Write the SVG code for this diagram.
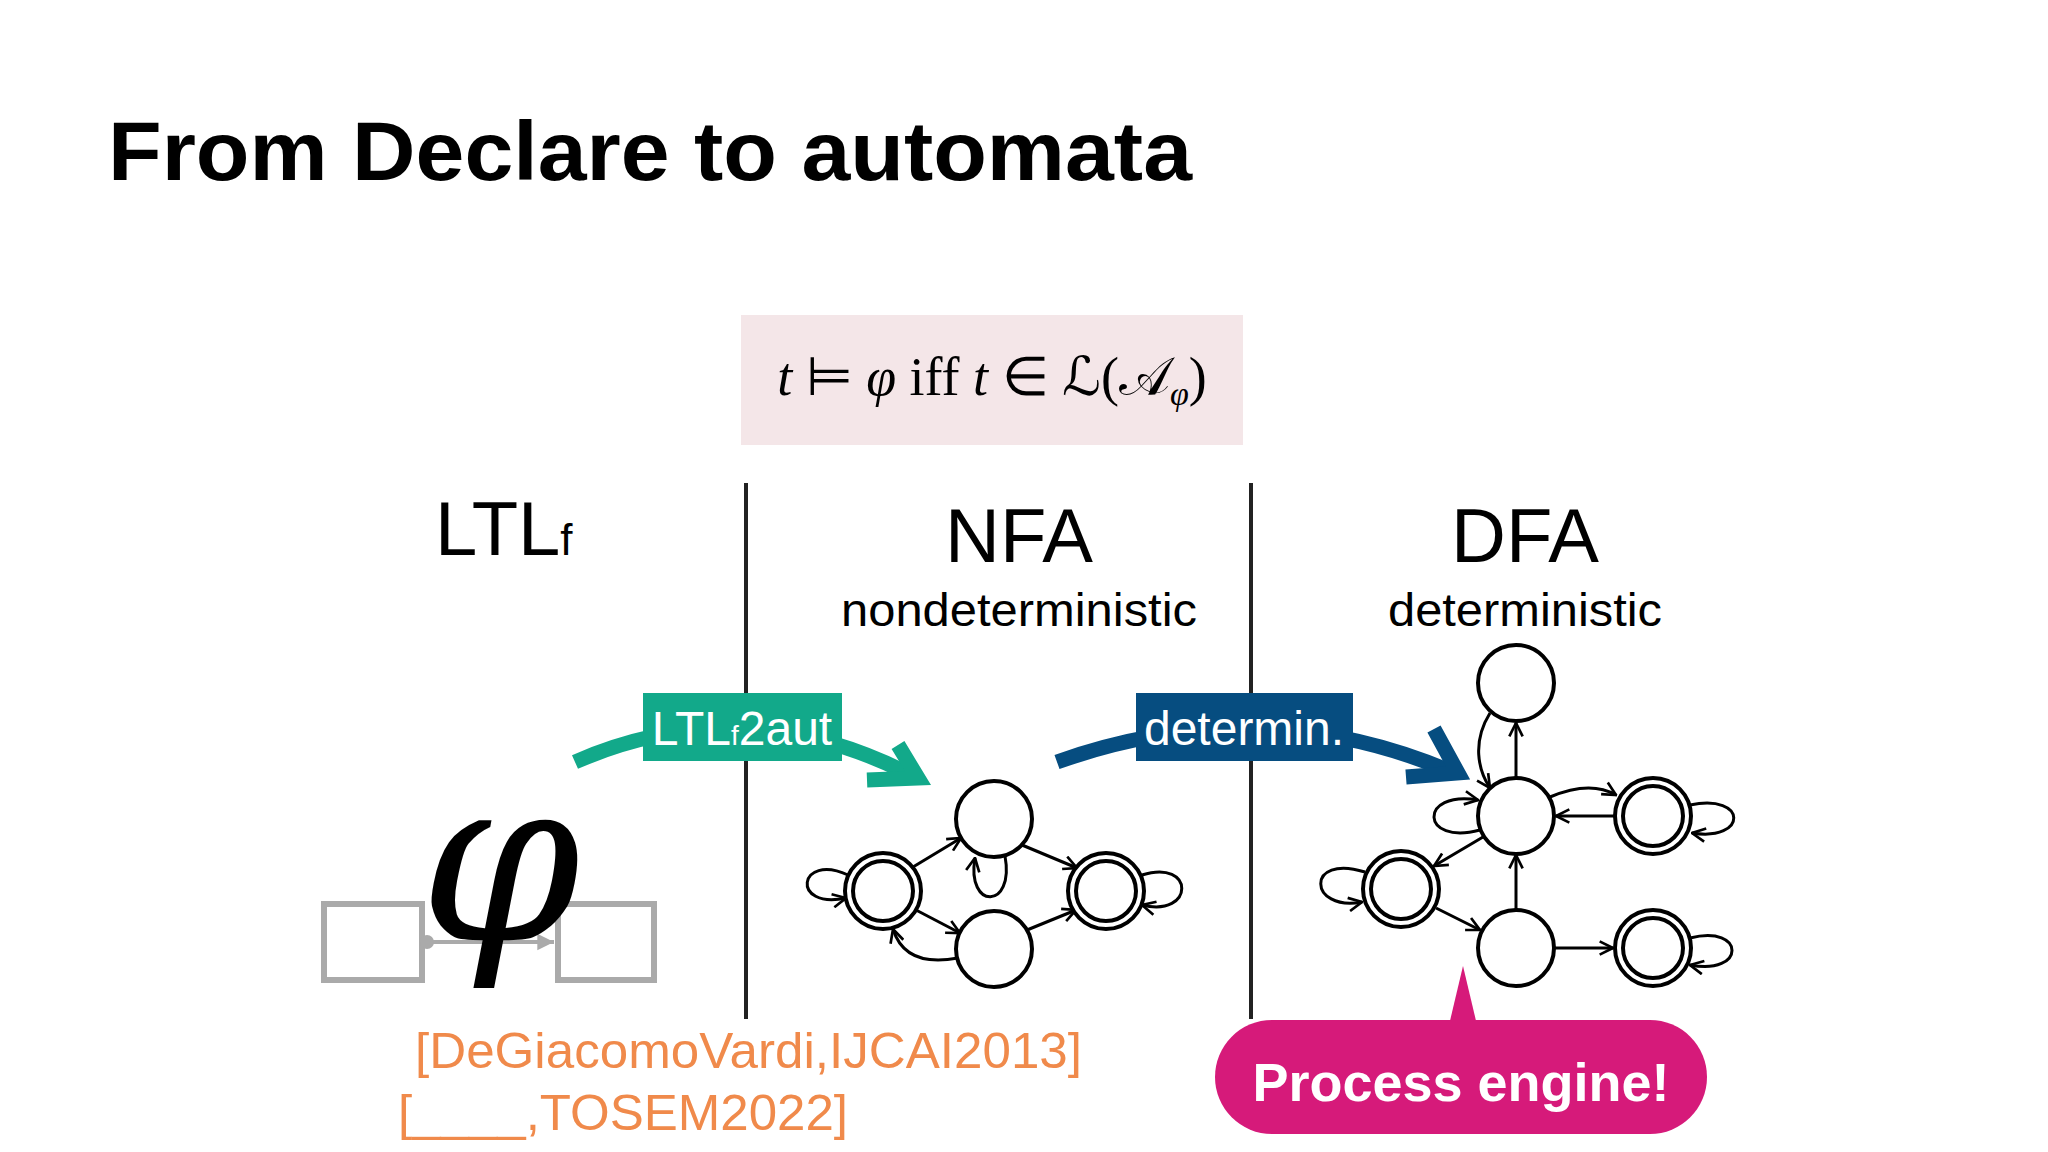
<svg xmlns="http://www.w3.org/2000/svg" width="2048" height="1152" viewBox="0 0 2048 1152">
<defs>
<marker id="ah" viewBox="0 0 12 12" refX="11" refY="6" markerWidth="16" markerHeight="16" markerUnits="userSpaceOnUse" orient="auto"><path d="M1,1 L11,6 L1,11" fill="none" stroke="#000" stroke-width="2"/></marker>
<marker id="ag" viewBox="0 0 12 12" refX="11" refY="6" markerWidth="5" markerHeight="5" orient="auto"><path d="M1,1 L11,6 L1,11Z" fill="#aaa"/></marker>
</defs>
<style>
.s{font-family:"Liberation Sans",Arial,sans-serif}
.st{fill:#fff;stroke:#000;stroke-width:4}
.e{fill:none;stroke:#000;stroke-width:3;marker-end:url(#ah)}
.g{fill:#fff;stroke:#aaa;stroke-width:6}
</style>
<rect width="2048" height="1152" fill="#fff"/>
<text class="s" x="108" y="180" font-size="84" font-weight="bold" textLength="1084" lengthAdjust="spacingAndGlyphs">From Declare to automata</text>
<g id="formula">
<rect x="741" y="315" width="502" height="130" fill="#f4e6e8"/>
<text x="992" y="395" font-family="'Liberation Serif',serif" font-size="54" text-anchor="middle"><tspan font-style="italic">t</tspan> ⊨ <tspan font-style="italic">φ</tspan> iff <tspan font-style="italic">t</tspan> ∈ ℒ(𝒜<tspan font-size="34" dy="10" font-style="italic">φ</tspan><tspan dy="-10">)</tspan></text>
</g>
<g id="dividers" stroke="#222" stroke-width="4">
<line x1="746" y1="483" x2="746" y2="1019"/>
<line x1="1251" y1="483" x2="1251" y2="1019"/>
</g>
<g id="headers" class="s">
<text x="435" y="555" font-size="76">LTL<tspan font-size="44">f</tspan></text>
<text x="1019" y="562" font-size="76" text-anchor="middle">NFA</text>
<text x="1019" y="626" font-size="47" text-anchor="middle" textLength="356" lengthAdjust="spacingAndGlyphs">nondeterministic</text>
<text x="1525" y="626" font-size="47" text-anchor="middle" textLength="274" lengthAdjust="spacingAndGlyphs">deterministic</text>
<text x="1525" y="562" font-size="76" text-anchor="middle">DFA</text>
</g>
<g id="ltlf">
<rect class="g" x="324" y="904" width="98" height="76"/>
<rect class="g" x="558" y="904" width="96" height="76"/>
<line x1="426" y1="942" x2="554" y2="942" stroke="#aaa" stroke-width="4" marker-end="url(#ag)"/>
<circle cx="427" cy="942" r="7" fill="#aaa"/>
<text x="500" y="940" font-family="'DejaVu Serif',serif" font-style="italic" font-size="230" text-anchor="middle">φ</text>
</g>
<g id="connectors">
<path d="M575,762 Q740,690 905,772" fill="none" stroke="#12a98a" stroke-width="15"/>
<path d="M898,745 L918,778 L867,780" fill="none" stroke="#12a98a" stroke-width="15"/>
<path d="M1057,762 Q1260,690 1452,772" fill="none" stroke="#064d80" stroke-width="15"/>
<path d="M1434,729 L1458,773 L1406,777" fill="none" stroke="#064d80" stroke-width="15"/>
<path class="e" d="M913,867 L961,838"/>
<path class="e" d="M1022,845 L1077,868"/>
<path class="e" d="M916,910 L960,933"/>
<path class="e" d="M1027,930 L1076,910"/>
<path class="e" d="M958,958 Q905,968 893,929"/>
<path class="e" d="M1005,856 C1015,910 966,910 975,858"/>
<path class="e" d="M848,875 C798,852 790,910 846,898"/>
<path class="e" d="M1142,875 C1195,858 1195,918 1142,905"/>
<path class="e" d="M1516,778 L1516,723"/>
<path class="e" d="M1490,713 C1472,742 1478,770 1490,788"/>
<path class="e" d="M1550,797 Q1590,780 1616,795"/>
<path class="e" d="M1615,816 L1556,816"/>
<path class="e" d="M1480,830 C1420,846 1418,790 1478,800"/>
<path class="e" d="M1690,805 C1748,793 1748,842 1692,833"/>
<path class="e" d="M1483,837 L1434,866"/>
<path class="e" d="M1365,872 C1305,853 1308,912 1362,902"/>
<path class="e" d="M1436,908 L1480,930"/>
<path class="e" d="M1516,910 L1516,855"/>
<path class="e" d="M1555,948 L1613,948"/>
<path class="e" d="M1690,938 C1746,924 1746,976 1690,965"/>
</g>
<g id="lbl-ltlf2aut"><rect x="643" y="693" width="199" height="68" fill="#12a98a"/>
<text class="s" x="742" y="745" font-size="48" fill="#fff" text-anchor="middle">LTL<tspan font-size="28">f</tspan>2aut</text></g>
<g id="lbl-determin"><rect x="1136" y="693" width="217" height="68" fill="#064d80"/>
<text class="s" x="1244" y="745" font-size="48" fill="#fff" text-anchor="middle">determin.</text></g>
<g id="nfa">
<circle class="st" cx="994" cy="819" r="38"/>
<circle class="st" cx="994" cy="949" r="38"/>
<circle class="st" cx="883" cy="891" r="38"/><circle class="st" cx="883" cy="891" r="30"/>
<circle class="st" cx="1106" cy="891" r="38"/><circle class="st" cx="1106" cy="891" r="30"/>
</g>
<g id="dfa">
<circle class="st" cx="1516" cy="683" r="38"/>
<circle class="st" cx="1516" cy="816" r="38"/>
<circle class="st" cx="1516" cy="948" r="38"/>
<circle class="st" cx="1653" cy="816" r="38"/><circle class="st" cx="1653" cy="816" r="30"/>
<circle class="st" cx="1401" cy="889" r="38"/><circle class="st" cx="1401" cy="889" r="30"/>
<circle class="st" cx="1653" cy="948" r="38"/><circle class="st" cx="1653" cy="948" r="30"/>
</g>
<g id="citations" class="s" fill="#f08a4b" font-size="50">
<text x="415" y="1068" textLength="667" lengthAdjust="spacingAndGlyphs">[DeGiacomoVardi,IJCAI2013]</text>
<text x="398" y="1130" textLength="450" lengthAdjust="spacingAndGlyphs">[____,TOSEM2022]</text>
</g>
<g id="process-engine">
<path d="M1449,1025 L1463,966 L1477,1025Z" fill="#d61a7a"/>
<rect x="1215" y="1020" width="492" height="114" rx="57" fill="#d61a7a"/>
<text class="s" x="1461" y="1101" font-size="54" font-weight="bold" fill="#fff" text-anchor="middle">Process engine!</text>
</g>
</svg>
